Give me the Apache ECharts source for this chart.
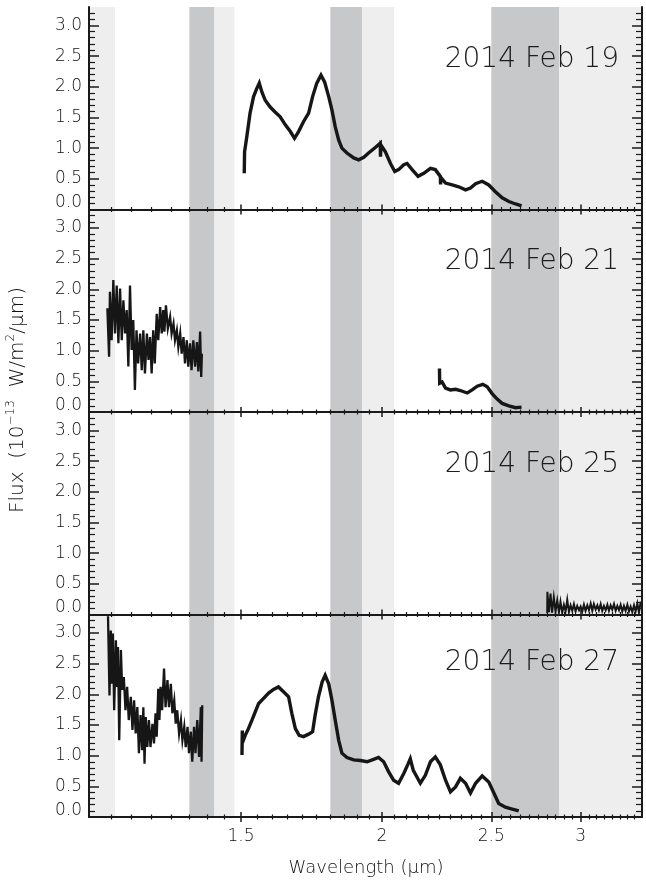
<!DOCTYPE html>
<html><head><meta charset="utf-8">
<script src="https://cdn.jsdelivr.net/npm/echarts@6/dist/echarts.min.js"></script>
<style>html,body{margin:0;padding:0;background:#fff}#c{width:646px;height:882px}</style>
</head><body><div id="c"></div>
<script>
// ---------- labels & ticks ----------
const panelLabels = ['2014 Feb 19', '2014 Feb 21', '2014 Feb 25', '2014 Feb 27'];
const xTickLabels = [1.5, 2, 2.5, 3];
const xMinorTicks = [1.15,1.2,1.25,1.3,1.35,1.4,1.45,1.55,1.6,1.65,1.7,1.75,1.8,1.85,1.9,1.95,
  2.05,2.1,2.15,2.2,2.25,2.3,2.35,2.4,2.45,2.55,2.6,2.65,2.7,2.75,2.8,2.85,2.9,2.95,
  3.05,3.1,3.15,3.2,3.25,3.3,3.35];
const yTickLabels = [0, 0.5, 1, 1.5, 2, 2.5, 3];
const yMinorTicks = [0.1,0.2,0.3,0.4,0.6,0.7,0.8,0.9,1.1,1.2,1.3,1.4,1.6,1.7,1.8,1.9,
  2.1,2.2,2.3,2.4,2.6,2.7,2.8,2.9,3.1,3.2];
const lightBands = [[1.1, 1.16], [1.42, 1.48], [1.92, 2.05], [2.87, 3.4]];
const darkBands = [[1.35, 1.42], [1.80, 1.92], [2.50, 2.87]];

// ---------- 2014 Feb 19 ----------
const feb19Wave = [1.510,1.511,1.518,1.528,1.539,1.549,1.557,1.565,1.576,1.592,1.608,1.625,1.642,1.659,1.673,1.687,
  1.704,1.722,1.736,1.751,1.766,1.779,1.794,1.806,1.818,1.831,1.843,1.862,1.888,1.907,1.927,1.946,1.973,
  1.993,1.994,1.996,2.014,2.035,2.053,2.069,2.091,2.105,2.127,2.153,2.178,2.208,2.230,2.253,2.254,2.256,
  2.277,2.308,2.339,2.372,2.396,2.421,2.454,2.487,2.521,2.556,2.591,2.627,2.659];
const feb19Flux = [0.59,0.94,1.19,1.57,1.84,1.97,2.06,1.92,1.78,1.67,1.59,1.51,1.38,1.27,1.16,1.27,
  1.43,1.57,1.84,2.06,2.19,2.08,1.84,1.62,1.35,1.13,1.00,0.92,0.84,0.81,0.85,0.92,1.01,
  1.08,0.86,1.05,0.94,0.75,0.62,0.65,0.73,0.75,0.65,0.54,0.59,0.67,0.65,0.54,0.41,0.52,
  0.43,0.40,0.37,0.32,0.35,0.42,0.46,0.40,0.29,0.19,0.13,0.09,0.06];

// ---------- 2014 Feb 21 ----------
const feb21aWave = [1.142,1.146,1.148,1.152,1.156,1.160,1.164,1.168,1.172,1.176,1.180,1.184,1.188,1.192,1.196,1.200,
  1.204,1.208,1.212,1.216,1.221,1.225,1.229,1.233,1.238,1.242,1.246,1.250,1.254,1.258,1.263,1.267,1.272,1.276,
  1.280,1.283,1.287,1.292,1.298,1.302,1.307,1.311,1.316,1.320,1.325,1.329,1.334,1.338,1.343,1.347,1.352,1.356,
  1.361,1.366,1.371,1.375,1.380,1.383,1.385];
const feb21aFlux = [1.69,0.90,1.96,1.17,2.15,1.28,2.06,1.12,2.01,1.17,1.82,1.28,1.66,0.74,2.06,1.01,
  1.50,0.36,1.33,0.79,1.28,0.68,1.33,0.63,1.28,0.85,1.22,0.63,1.33,0.79,1.60,1.17,1.71,1.28,
  1.66,1.31,1.74,1.36,1.55,1.28,1.44,1.17,1.33,1.06,1.28,0.95,1.22,0.79,1.17,0.74,1.12,0.68,
  1.17,0.74,1.14,0.66,1.31,0.57,0.95];
const feb21bWave = [2.249,2.250,2.261,2.277,2.300,2.324,2.347,2.380,2.404,2.429,2.457,2.479,2.504,2.530,2.556,2.591,2.627,2.659];
const feb21bFlux = [0.71,0.47,0.49,0.39,0.36,0.37,0.35,0.31,0.36,0.42,0.45,0.41,0.30,0.21,0.14,0.10,0.07,0.08];

// ---------- 2014 Feb 25 ----------
const feb25Wave = [2.802,2.803,2.812,2.821,2.830,2.840,2.850,2.860,2.870,2.879,2.889,2.899,2.909,2.919,2.929,2.939,
  2.949,2.959,2.969,2.979,2.990,3.000,3.010,3.020,3.030,3.041,3.051,3.062,3.072,3.082,3.093,3.104,3.114,3.125,
  3.135,3.146,3.157,3.168,3.178,3.189,3.200,3.211,3.222,3.233,3.244,3.255,3.266,3.277,3.288,3.300,3.311,3.322,
  3.333,3.345,3.356,3.368,3.379,3.391];
const feb25Flux = [0.02,0.37,0.04,0.34,0.03,0.28,0.05,0.23,0.04,0.21,0.03,0.16,0.05,0.24,0.04,0.15,
  0.06,0.17,0.05,0.14,0.07,0.13,0.05,0.16,0.06,0.15,0.07,0.18,0.06,0.17,0.08,0.15,0.07,0.17,
  0.06,0.14,0.07,0.16,0.06,0.15,0.08,0.17,0.06,0.14,0.07,0.16,0.05,0.14,0.06,0.16,0.05,0.13,
  0.04,0.15,0.05,0.18,0.03,0.21];

// ---------- 2014 Feb 27 ----------
const feb27aWave = [1.1435,1.147,1.150,1.153,1.155,1.158,1.162,1.165,1.167,1.170,1.174,1.177,1.181,1.185,1.189,1.193,
  1.198,1.202,1.206,1.210,1.214,1.218,1.222,1.226,1.229,1.232,1.235,1.239,1.243,1.247,1.252,1.256,1.260,1.263,
  1.267,1.270,1.273,1.277,1.282,1.286,1.291,1.295,1.300,1.304,1.309,1.313,1.317,1.322,1.327,1.331,1.336,1.340,
  1.345,1.349,1.354,1.358,1.363,1.367,1.372,1.377,1.382,1.384,1.386];
const feb27aFlux = [3.27,1.98,3.04,2.17,2.99,1.74,2.88,2.12,2.77,1.25,2.72,2.07,2.28,1.74,2.12,1.58,
  1.96,1.42,1.90,1.36,1.79,1.04,1.66,1.09,1.79,0.87,1.63,1.14,1.58,1.14,1.52,1.20,1.69,1.31,
  2.09,1.58,2.12,1.74,2.42,1.79,2.23,1.79,2.17,1.69,1.90,1.52,1.74,1.36,1.58,1.25,1.47,1.14,
  1.47,1.04,1.39,0.90,1.47,1.04,1.58,0.98,1.79,0.90,1.82];
const feb27bWave = [1.503,1.504,1.505,1.513,1.523,1.534,1.544,1.555,1.570,1.587,1.603,1.619,1.636,1.653,1.664,1.676,
  1.689,1.704,1.722,1.736,1.745,1.757,1.770,1.781,1.794,1.806,1.818,1.831,1.843,1.862,1.888,1.914,1.940,1.966,
  1.986,2.007,2.027,2.048,2.069,2.091,2.110,2.119,2.132,2.163,2.185,2.208,2.230,2.253,2.277,2.300,2.324,2.347,
  2.372,2.396,2.421,2.454,2.487,2.513,2.538,2.573,2.609,2.644];
const feb27bFlux = [1.01,1.41,1.22,1.33,1.44,1.58,1.71,1.85,1.93,2.02,2.08,2.12,2.04,1.96,1.69,1.44,
  1.33,1.31,1.35,1.39,1.66,1.96,2.20,2.31,2.17,1.90,1.58,1.25,1.04,0.97,0.93,0.92,0.90,0.94,
  0.97,0.90,0.74,0.60,0.55,0.71,0.87,0.95,0.76,0.55,0.68,0.90,0.98,0.85,0.60,0.41,0.49,0.63,
  0.55,0.39,0.55,0.67,0.57,0.39,0.22,0.16,0.13,0.10];

const panels = [
  [[feb19Wave, feb19Flux, 3.4]],
  [[feb21aWave, feb21aFlux, 2.3], [feb21bWave, feb21bFlux, 3.4]],
  [[feb25Wave, feb25Flux, 2.0]],
  [[feb27aWave, feb27aFlux, 2.3], [feb27bWave, feb27bFlux, 3.4]]
];

// ---------- build option ----------
const FONT = 'DejaVu Sans';
const AX = '#1a1a1a';
const TXT = '#111111';
const gridTops = [7, 209.5, 412, 614.5];
const labelY = [60, 262, 465, 663];
const grids = [], xAxes = [], yAxes = [], series = [];
const pair = (w, f) => w.map((v, k) => [v, f[k]]);

for (let i = 0; i < 4; i++) {
  grids.push({ left: 89, right: 4, top: gridTops[i], height: 202.5 });
  const xb = { type: 'log', logBase: 10, min: 1.1, max: 3.4, gridIndex: i, z: 10,
    splitLine: { show: false }, axisLabel: { show: false }, axisPointer: { show: false } };
  const xLine = { show: true, lineStyle: { color: AX, width: 2 } };
  const noLine = { show: false };
  ['bottom', 'top'].forEach(pos => {
    xAxes.push(Object.assign({}, xb, {
      position: pos, axisLine: xLine,
      axisTick: { show: true, inside: true, length: 5, customValues: xTickLabels, lineStyle: { color: AX, width: 1.5 } },
      axisLabel: (i === 3 && pos === 'bottom') ? {
        show: true, customValues: xTickLabels, margin: 11, color: TXT, fontSize: 17, fontWeight: 200, fontFamily: FONT,
        formatter: v => String(Math.round(v * 100) / 100)
      } : { show: false }
    }));
    xAxes.push(Object.assign({}, xb, {
      position: pos, axisLine: noLine,
      axisTick: { show: true, inside: true, length: 2.5, customValues: xMinorTicks, lineStyle: { color: AX, width: 1.2 } }
    }));
  });
  const yb = { type: 'value', min: 0, max: 3.3, gridIndex: i, z: 10, splitLine: { show: false },
    axisLabel: { show: false }, axisPointer: { show: false } };
  ['left', 'right'].forEach(pos => {
    yAxes.push(Object.assign({}, yb, {
      position: pos, axisLine: { show: true, lineStyle: { color: AX, width: 2 } },
      axisTick: { show: true, inside: true, length: 10, customValues: yTickLabels, lineStyle: { color: AX, width: 1.5 } },
      axisLabel: pos === 'left' ? {
        show: true, customValues: yTickLabels, margin: 7, color: TXT, fontSize: 17, fontWeight: 200, fontFamily: FONT,
        formatter: v => v === 0 ? '{z|0.0}' : v.toFixed(1),
        rich: { z: { fontSize: 17, fontWeight: 200, fontFamily: FONT, color: TXT, padding: [0, 0, 13, 0] } }
      } : { show: false }
    }));
    yAxes.push(Object.assign({}, yb, {
      position: pos, axisLine: noLine,
      axisTick: { show: true, inside: true, length: 6, customValues: yMinorTicks, lineStyle: { color: AX, width: 1.2 } }
    }));
  });
  // shaded bands
  const areas = [];
  lightBands.forEach(b => areas.push([{ xAxis: b[0], itemStyle: { color: '#eeeeee' } }, { xAxis: b[1] }]));
  darkBands.forEach(b => areas.push([{ xAxis: b[0], itemStyle: { color: '#c7c8ca' } }, { xAxis: b[1] }]));
  series.push({
    type: 'line', xAxisIndex: i * 4, yAxisIndex: i * 4, data: [], silent: true, z: 1,
    markArea: { silent: true, z: 1, data: areas }
  });
  panels[i].forEach(seg => {
    series.push({
      type: 'line', xAxisIndex: i * 4, yAxisIndex: i * 4, data: pair(seg[0], seg[1]),
      showSymbol: false, symbol: 'none', z: 3, silent: true,
      lineStyle: { color: '#161616', width: seg[2], join: 'miter' }
    });
  });
}

const graphic = panelLabels.map((t, i) => ({
  type: 'text', x: 619, y: labelY[i], z: 20,
  style: { text: t, fill: '#1c1c1c', fontSize: 28, fontWeight: 200, fontFamily: FONT,
    align: 'right', textAlign: 'right', verticalAlign: 'middle', textVerticalAlign: 'middle' }
}));
graphic.push({
  type: 'text', x: 366, y: 868, z: 20,
  style: { text: 'Wavelength (\u03bcm)', fill: TXT, fontSize: 18, fontWeight: 200, fontFamily: FONT,
    align: 'center', textAlign: 'center', verticalAlign: 'middle', textVerticalAlign: 'middle' }
});
graphic.push({
  type: 'text', x: 18, y: 400, rotation: Math.PI / 2, z: 20,
  style: {
    text: '{a|Flux  (10}{s|\u221213}{a|  W/m}{s|2}{a|/\u03bcm)}',
    align: 'center', textAlign: 'center', verticalAlign: 'middle', textVerticalAlign: 'middle',
    rich: {
      a: { fontSize: 20, fontWeight: 200, fontFamily: FONT, fill: TXT, color: TXT, lineHeight: 26 },
      s: { fontSize: 12, fontWeight: 200, fontFamily: FONT, fill: TXT, color: TXT, lineHeight: 12, verticalAlign: 'top' }
    }
  }
});

const chart = echarts.init(document.getElementById('c'), null, { renderer: 'canvas' });
chart.setOption({
  animation: false,
  backgroundColor: '#ffffff',
  grid: grids, xAxis: xAxes, yAxis: yAxes, series: series, graphic: graphic
});
</script></body></html>
